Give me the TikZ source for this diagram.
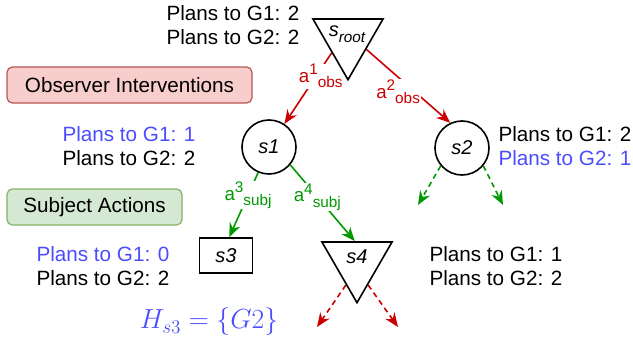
\documentclass[tikz,border=0pt]{standalone}
\usepackage[no-math]{fontspec}
\setmainfont{Liberation Sans}
\usetikzlibrary{arrows.meta,shapes.geometric,backgrounds}

\definecolor{obsred}{HTML}{CC0000}
\definecolor{subjgreen}{HTML}{009900}
\definecolor{planblue}{HTML}{4C4CFF}
\definecolor{obsfill}{HTML}{F8CECC}
\definecolor{obsline}{HTML}{B85450}
\definecolor{subjfill}{HTML}{D5E8D4}
\definecolor{subjline}{HTML}{82B366}

\newcommand{\suptxt}[1]{\raisebox{0.42em}{\fontsize{11.5}{11.5}\selectfont #1}}
\newcommand{\subtxt}[1]{\raisebox{-0.28em}{\fontsize{11.5}{11.5}\selectfont #1}}

\begin{document}
\begin{tikzpicture}[x=0.75pt, y=-0.75pt, >={Stealth[length=10.5pt,width=8.5pt]},
    every node/.style={inner sep=0pt},
    plans/.style={align=left, font=\fontsize{15.5}{17.5}\selectfont},
    statenode/.style={draw, circle, line width=1.2pt, minimum size=40.5pt, font=\fontsize{15}{17}\selectfont\itshape},
    tri/.style={draw, regular polygon, regular polygon sides=3, shape border rotate=180, line width=1.2pt, minimum size=60.75pt},
    trilbl/.style={font=\fontsize{15}{17}\selectfont\itshape},
    leaf/.style={draw, rectangle, line width=1.2pt, minimum width=39.75pt, minimum height=26.25pt, font=\fontsize{15}{17}\selectfont\itshape},
    legend/.style={draw, rounded corners=4pt, line width=0.9pt, minimum height=27pt, font=\fontsize{15.5}{17.5}\selectfont},
    obsarrow/.style={->, draw=obsred, line width=1.2pt},
    subjarrow/.style={->, draw=subjgreen, line width=1.2pt},
    edgelbl/.style={fill=white, inner sep=0.5pt, font=\fontsize{14}{16}\selectfont}]

    \useasboundingbox (0,0) rectangle (633,339);

    % legend boxes
    \node[legend, fill=obsfill, draw=obsline, minimum width=183.75pt] (obsbox) at (129.5,85) {Observer Interventions};
    \node[legend, fill=subjfill, draw=subjline, minimum width=131.25pt] (subjbox) at (94.5,207) {Subject Actions};

    % states
    \node[tri] (root) at (348,39.2) {};
    \node[trilbl] (rootlbl) at (347,34) {s\subtxt{root}};
    \node[statenode] (s1) at (269,147) {s1};
    \node[statenode] (s2) at (462,148) {s2};
    \node[leaf] (s3) at (226,255.5) {s3};
    \node[tri] (s4) at (357,262.2) {};
    \node[trilbl] (s4lbl) at (357,257) {s4};

    % plan counts
    \node[plans] (rootplans) at (233,25) {Plans to G1: 2\\Plans to G2: 2};
    \node[plans] (s1plans) at (129,146) {\textcolor{planblue}{Plans to G1: 1}\\Plans to G2: 2};
    \node[plans] (s2plans) at (565,146) {Plans to G1: 2\\\textcolor{planblue}{Plans to G2: 1}};
    \node[plans] (s3plans) at (103,266) {\textcolor{planblue}{Plans to G1: 0}\\Plans to G2: 2};
    \node[plans] (s4plans) at (496,266) {Plans to G1: 1\\Plans to G2: 2};

    \node[text=planblue, font=\fontsize{20.5}{24}\selectfont] (hs3) at (209,322) {$H_{s3}=\{G2\}$};

    \begin{pgfonlayer}{background}
    % observer interventions
    \draw[obsarrow] (root.220) -- node[edgelbl, text=obsred, pos=0.3, xshift=2.5pt, yshift=-1.5pt] (a1) {a\suptxt{1}\subtxt{obs}} (s1);
    \draw[obsarrow] (root.331) -- node[edgelbl, text=obsred, pos=0.577, xshift=-12.5pt] (a2) {a\suptxt{2}\subtxt{obs}} (s2.115);

    % subject actions
    \draw[subjarrow] (s1.247) -- node[edgelbl, text=subjgreen, pos=0.35] (a3) {a\suptxt{3}\subtxt{subj}} (s3.80);
    \draw[subjarrow] (s1.320) -- node[edgelbl, text=subjgreen, pos=0.42] (a4) {a\suptxt{4}\subtxt{subj}} (s4.96);

    % unexpanded branches
    \coordinate (s2l) at (418,205);
    \coordinate (s2r) at (503,205);
    \coordinate (s4l) at (317,327);
    \coordinate (s4r) at (398,327);
    \draw[subjarrow, dash pattern=on 4pt off 3pt] (s2.220) -- (s2l);
    \draw[subjarrow, dash pattern=on 4pt off 3pt] (s2.320) -- (s2r);
    \draw[obsarrow, dash pattern=on 4pt off 3pt] (s4.244) -- (s4l);
    \draw[obsarrow, dash pattern=on 4pt off 3pt] (s4.296) -- (s4r);
    \end{pgfonlayer}
\end{tikzpicture}
\end{document}
